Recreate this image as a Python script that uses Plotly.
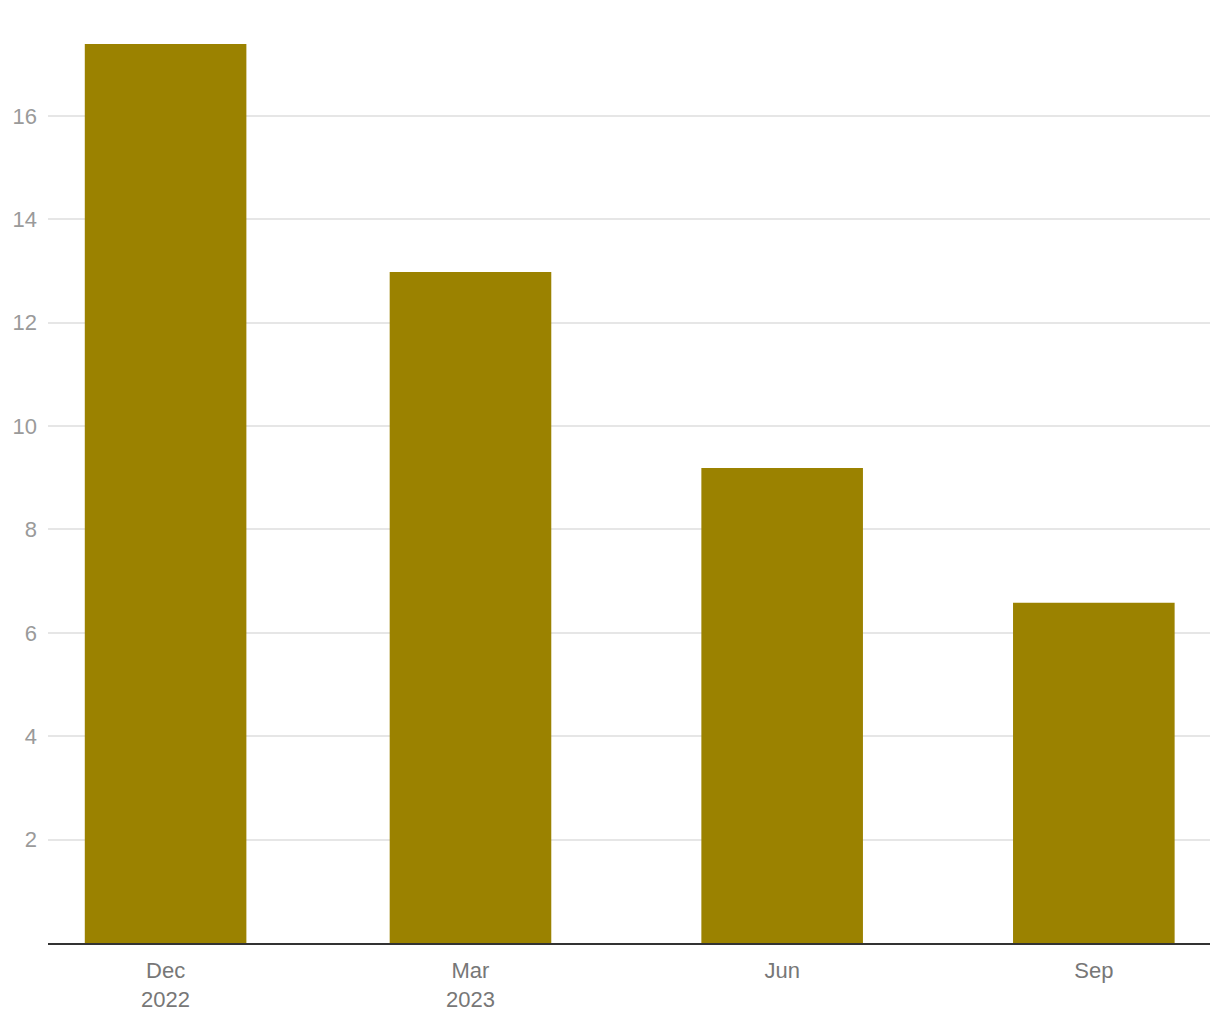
import plotly.graph_objects as go

dates = ["2022-12-01", "2023-03-01", "2023-06-01", "2023-09-01"]
values = [17.39, 12.98, 9.19, 6.58]
x_tick_labels = ["Dec<br>2022", "Mar<br>2023", "Jun", "Sep"]
y_ticks = [2, 4, 6, 8, 10, 12, 14, 16]

fig = go.Figure(go.Bar(x=dates, y=values, marker_color="#9b8200", marker_line_width=0))

fig.update_layout(
    width=1220, height=1020,
    margin=dict(l=40, r=18, t=36, b=85),
    paper_bgcolor="white", plot_bgcolor="white",
    font=dict(family="Liberation Sans, Arial, sans-serif", size=22),
    bargap=0.47,
    showlegend=False,
)
fig.update_xaxes(
    type="date", automargin=False,
    range=["2022-10-27 07:00", "2023-10-05 07:00"],
    tickvals=dates, ticktext=x_tick_labels,
    showgrid=False, showline=True, linecolor="#333333", linewidth=2,
    ticks="", ticklabelstandoff=7,
    tickfont=dict(color="#777777", size=22),
)
fig.update_yaxes(
    automargin=False,
    range=[0, 17.39],
    tickvals=y_ticks,
    showgrid=True, gridcolor="#e6e6e6", gridwidth=2,
    zeroline=False, showline=False, ticks="", ticklabelstandoff=10,
    tickfont=dict(color="#9a9a9a", size=22),
)
fig.write_html("out.html")
